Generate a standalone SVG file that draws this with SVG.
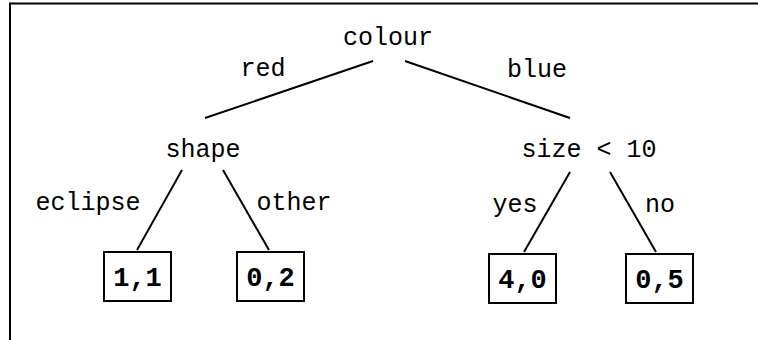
<svg xmlns="http://www.w3.org/2000/svg" width="758" height="340" viewBox="0 0 758 340">
  <style>
    .lbl { font-family: "Liberation Mono", "Courier New", monospace; font-size: 25px; fill: #000; text-anchor: middle; }
    .leaf { font-family: "Liberation Mono", "Courier New", monospace; font-size: 27px; font-weight: bold; fill: #000; text-anchor: middle; }
    .box { fill: #fff; stroke: #000; stroke-width: 2; }
    .edge { stroke: #000; stroke-width: 2; fill: none; }
  </style>
  <rect width="758" height="340" fill="#fff"/>
  <!-- frame: top and left edges -->
  <path d="M10,340 V3.5 H758" fill="none" stroke="#000" stroke-width="2"/>

  <g id="connectors">
    <line class="edge" x1="373" y1="61" x2="205" y2="118"/>
    <line class="edge" x1="405" y1="61" x2="570" y2="118"/>
    <line class="edge" x1="182" y1="170" x2="137" y2="250"/>
    <line class="edge" x1="223" y1="170" x2="269" y2="250"/>
    <line class="edge" x1="570" y1="172" x2="524" y2="252"/>
    <line class="edge" x1="610" y1="172" x2="656" y2="252"/>
    <text class="lbl" x="263" y="76">red</text>
    <text class="lbl" x="537" y="77">blue</text>
    <text class="lbl" x="88" y="210">eclipse</text>
    <text class="lbl" x="294" y="210">other</text>
    <text class="lbl" x="515" y="212">yes</text>
    <text class="lbl" x="660" y="212">no</text>
  </g>

  <g id="colour">
    <text class="lbl" x="388" y="45">colour</text>
  </g>
  <g id="shape">
    <text class="lbl" x="203" y="157">shape</text>
  </g>
  <g id="size">
    <text class="lbl" x="589" y="157">size &lt; 10</text>
  </g>
  <g id="leaf-1-1">
    <rect class="box" x="104" y="252" width="67" height="49"/>
    <text class="leaf" x="137.5" y="286">1,1</text>
  </g>
  <g id="leaf-0-2">
    <rect class="box" x="237" y="252" width="67" height="49"/>
    <text class="leaf" x="270.5" y="286">0,2</text>
  </g>
  <g id="leaf-4-0">
    <rect class="box" x="489" y="254" width="67" height="49"/>
    <text class="leaf" x="522.5" y="288">4,0</text>
  </g>
  <g id="leaf-0-5">
    <rect class="box" x="626" y="254" width="67" height="49"/>
    <text class="leaf" x="659.5" y="288">0,5</text>
  </g>
</svg>
